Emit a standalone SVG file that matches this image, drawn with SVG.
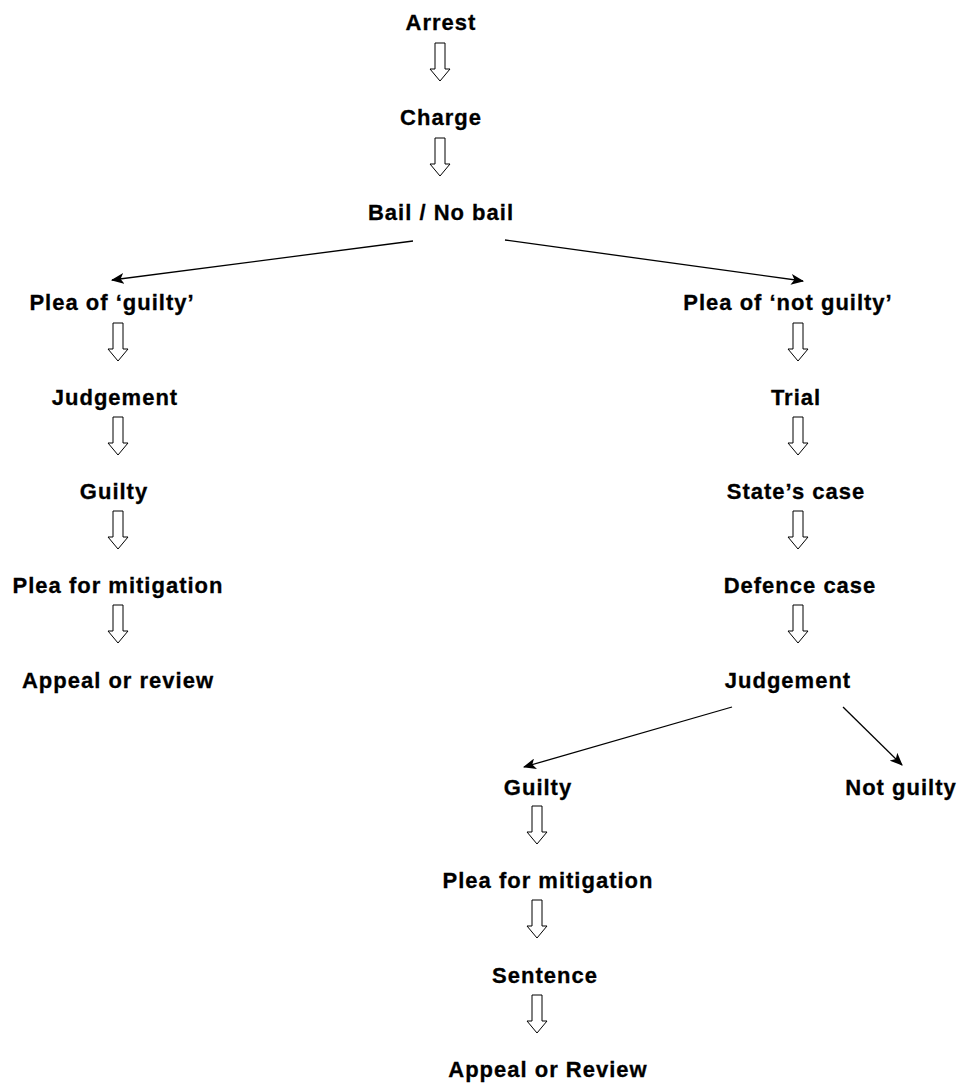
<svg xmlns="http://www.w3.org/2000/svg" width="962" height="1086" viewBox="0 0 962 1086">
<style>
text{font-family:"Liberation Sans",Arial,sans-serif;font-weight:bold;font-size:22px;fill:#000;text-anchor:middle;letter-spacing:1px;stroke:#000;stroke-width:0.3}
.ha{fill:#fff;stroke:#000;stroke-width:1}
.ln{stroke:#000;stroke-width:1.3;fill:none;marker-end:url(#ah)}
</style>
<defs>
<marker id="ah" viewBox="0 0 12 10" refX="11" refY="5" markerWidth="13" markerHeight="11" markerUnits="userSpaceOnUse" orient="auto">
<path d="M0,0 L12,5 L0,10 L3,5 z" fill="#000"/>
</marker>
<path id="ha" d="M-5,0 H5 V26 H10 L0,38 L-10,26 H-5 Z"/>
</defs>
<rect width="962" height="1086" fill="#fff"/>
<g id="connectors">
<use href="#ha" class="ha" x="440" y="43"/>
<use href="#ha" class="ha" x="440" y="138"/>
<use href="#ha" class="ha" x="118" y="323"/>
<use href="#ha" class="ha" x="118" y="417"/>
<use href="#ha" class="ha" x="118" y="511"/>
<use href="#ha" class="ha" x="118" y="605"/>
<use href="#ha" class="ha" x="798" y="323"/>
<use href="#ha" class="ha" x="798" y="417"/>
<use href="#ha" class="ha" x="798" y="511"/>
<use href="#ha" class="ha" x="798" y="605"/>
<use href="#ha" class="ha" x="537" y="806"/>
<use href="#ha" class="ha" x="537" y="900"/>
<use href="#ha" class="ha" x="537" y="995"/>
<path class="ln" d="M413,241 L112,280"/>
<path class="ln" d="M505,240 L803,281"/>
<path class="ln" d="M732,707 L524,767"/>
<path class="ln" d="M843,707 L902,765"/>
</g>
<g id="n-arrest"><text x="441" y="30">Arrest</text></g>
<g id="n-charge"><text x="441" y="125">Charge</text></g>
<g id="n-bail"><text x="441" y="220">Bail / No bail</text></g>
<g id="n-plea-guilty"><text x="112" y="310">Plea of ‘guilty’</text></g>
<g id="n-judgement-l"><text x="115" y="405">Judgement</text></g>
<g id="n-guilty-l"><text x="114" y="499">Guilty</text></g>
<g id="n-mitigation-l"><text x="118" y="593">Plea for mitigation</text></g>
<g id="n-appeal-l"><text x="118" y="688">Appeal or review</text></g>
<g id="n-plea-not-guilty"><text x="788" y="310">Plea of ‘not guilty’</text></g>
<g id="n-trial"><text x="796" y="405">Trial</text></g>
<g id="n-state"><text x="796" y="499">State’s case</text></g>
<g id="n-defence"><text x="800" y="593">Defence case</text></g>
<g id="n-judgement-r"><text x="788" y="688">Judgement</text></g>
<g id="n-guilty-r"><text x="538" y="795">Guilty</text></g>
<g id="n-not-guilty"><text x="901" y="795">Not guilty</text></g>
<g id="n-mitigation-r"><text x="548" y="888">Plea for mitigation</text></g>
<g id="n-sentence"><text x="545" y="983">Sentence</text></g>
<g id="n-appeal-r"><text x="548" y="1077">Appeal or Review</text></g>
</svg>
